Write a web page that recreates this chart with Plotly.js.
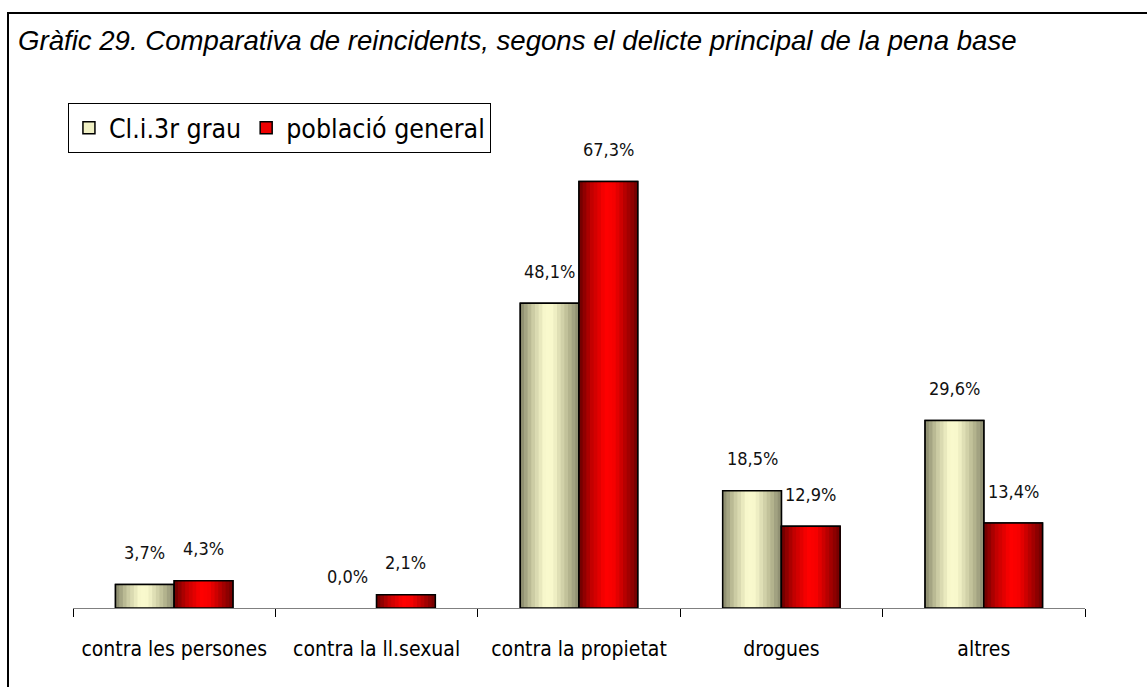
<!DOCTYPE html>
<html>
<head>
<meta charset="utf-8">
<script src="https://cdn.plot.ly/plotly-3.0.1.min.js"></script>
<style>
  html, body { margin: 0; padding: 0; background: #fff; }
  #wrap { position: relative; width: 1147px; height: 687px; overflow: hidden; }
  #chart { position: absolute; left: 0; top: 0; width: 1147px; height: 687px; }
  #frame { position: absolute; left: 7px; top: 12px; width: 1150px; height: 690px;
           border-top: 2px solid #000; border-left: 2px solid #000; pointer-events: none; }
</style>
</head>
<body>
<div id="wrap"><div id="chart"></div><div id="frame"></div></div>
<script>
// ---- data ----
const categories = ['contra les persones', 'contra la ll.sexual', 'contra la propietat', 'drogues', 'altres'];
const seriesNames = ['Cl.i.3r grau', 'població general'];
const cli3rGrau = [3.7, 0.0, 48.1, 18.5, 29.6];
const poblacioGeneral = [4.3, 2.1, 67.3, 12.9, 13.4];
const chartTitle = 'Gràfic 29. Comparativa de reincidents, segons el delicte principal de la pena base';

// ---- style ----
const NARROW = '"Liberation Sans Narrow", "Arial Narrow", "DejaVu Sans Condensed", sans-serif';
const BAR_W = 0.29;
const N_STRIPES = 16;
const creamStops = [[0, [135,135,105]], [0.2, [200,200,160]], [0.42, [250,250,206]], [0.55, [248,248,204]], [0.8, [190,190,150]], [1, [138,138,110]]];
const redStops = [[0, [105,0,0]], [0.2, [190,0,0]], [0.45, [255,0,0]], [0.6, [245,0,0]], [0.85, [160,0,0]], [1, [110,0,0]]];
const seriesDefs = [
  { name: seriesNames[0], values: cli3rGrau, offset: -BAR_W, stops: creamStops, solid: '#f0f0c4' },
  { name: seriesNames[1], values: poblacioGeneral, offset: 0, stops: redStops, solid: '#ee0000' }
];

function interp(stops, t) {
  for (let i = 1; i < stops.length; i++) {
    if (t <= stops[i][0]) {
      const a = stops[i-1], b = stops[i];
      const f = (t - a[0]) / (b[0] - a[0]);
      const c = a[1].map((v, k) => Math.round(v + (b[1][k] - v) * f));
      return 'rgb(' + c.join(',') + ')';
    }
  }
  const l = stops[stops.length-1][1];
  return 'rgb(' + l.join(',') + ')';
}

const traces = [];
const annotations = [];
seriesDefs.forEach((s) => {
  const lineW = s.values.map(v => v > 0 ? 1.5 : 0);
  // legend / base trace
  traces.push({
    type: 'bar', name: s.name, x: categories, y: s.values,
    width: BAR_W, offset: s.offset,
    marker: { color: s.solid, line: { color: '#000', width: lineW } },
    hoverinfo: 'skip', showlegend: true
  });
  // gradient stripes
  const step = BAR_W / N_STRIPES;
  for (let i = 0; i < N_STRIPES; i++) {
    traces.push({
      type: 'bar', x: categories, y: s.values,
      width: BAR_W - i * step, offset: s.offset + i * step,
      marker: { color: interp(s.stops, (i + 0.5) / N_STRIPES), line: { width: 0 } },
      hoverinfo: 'skip', showlegend: false
    });
  }
  // outline
  traces.push({
    type: 'bar', x: categories, y: s.values,
    width: BAR_W, offset: s.offset,
    marker: { color: 'rgba(0,0,0,0)', line: { color: '#000', width: lineW } },
    hoverinfo: 'skip', showlegend: false
  });
  s.values.forEach((v, i) => {
    annotations.push({
      x: i + s.offset + BAR_W / 2, y: v, xref: 'x', yref: 'y',
      text: v.toFixed(1).replace('.', ',') + '%',
      showarrow: false, yanchor: 'middle', yshift: 32,
      font: { family: NARROW, size: 18, color: '#111' }
    });
  });
});

const layout = {
  width: 1147, height: 687,
  paper_bgcolor: '#fff', plot_bgcolor: '#fff',
  margin: { l: 73, r: 62, t: 101, b: 79 },
  barmode: 'overlay',
  title: {
    text: chartTitle, xref: 'container', yref: 'container',
    x: 18 / 1147, xanchor: 'left', y: 1 - 40 / 687, yanchor: 'middle',
    font: { family: '"Liberation Sans", Arial, sans-serif', size: 27.6, style: 'italic', color: '#000' }
  },
  xaxis: {
    type: 'category', range: [-0.5, 4.5], fixedrange: true,
    showline: true, linecolor: '#808080', linewidth: 1,
    ticks: 'outside', tickson: 'boundaries', ticklen: 8, tickcolor: '#000', tickwidth: 1,
    showgrid: false, zeroline: false, tickangle: 0,
    tickfont: { family: NARROW, size: 21, color: '#000' },
    ticklabelstandoff: 22
  },
  yaxis: { range: [0, 80], visible: false, showgrid: false, zeroline: false, fixedrange: true },
  showlegend: true,
  legend: {
    orientation: 'h', x: -0.005, xanchor: 'left', y: 0.996, yanchor: 'top',
    bgcolor: '#fff', bordercolor: '#000', borderwidth: 1,
    font: { family: NARROW, size: 26.5, color: '#000' },
    itemwidth: 30, traceorder: 'normal'
  },
  annotations: annotations
};

Plotly.newPlot('chart', traces, layout, { staticPlot: true, displayModeBar: false });
</script>
</body>
</html>
